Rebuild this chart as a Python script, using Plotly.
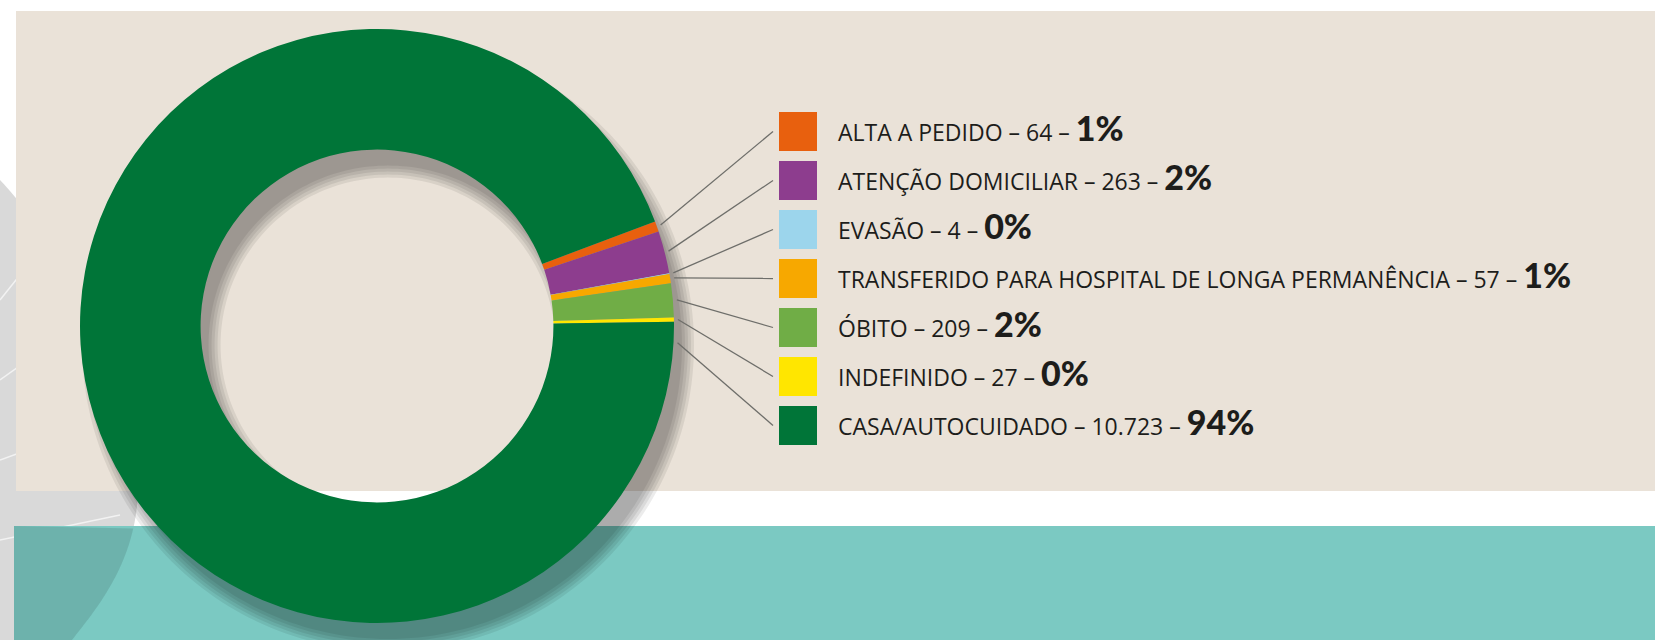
import numpy as np
import plotly.graph_objects as go

# ---------------- data ----------------
categories = ["ALTA A PEDIDO", "ATENÇÃO DOMICILIAR", "EVASÃO",
              "TRANSFERIDO PARA HOSPITAL DE LONGA PERMANÊNCIA", "ÓBITO",
              "INDEFINIDO", "CASA/AUTOCUIDADO"]
values = [64, 263, 4, 57, 209, 27, 10723]
value_labels = ["64", "263", "4", "57", "209", "27", "10.723"]
percent_labels = ["1%", "2%", "0%", "1%", "2%", "0%", "94%"]
colors = ["#E8600E", "#8D3D8E", "#9CD5EC", "#F7A800", "#70AD46", "#FFE600", "#007538"]

# ---------------- geometry / style ----------------
W, H = 1655, 640
CX, CY, R = 377, 326, 297
HOLE = 0.594
ROTATION = 69.4
BEIGE = "#EAE2D8"
TEAL = "#7BC9C2"


def px(x):
    return x / W


def py(y):
    return 1 - y / H


def poly(pts):
    return "M " + " L ".join(f"{px(x):.5f},{py(y):.5f}" for x, y in pts) + " Z"


def ring_path(cx, cy, ro, ri, n=240):
    t = np.linspace(0, 2 * np.pi, n, endpoint=False)
    outer = [(cx + ro * np.cos(a), cy + ro * np.sin(a)) for a in t]
    inner = [(cx + ri * np.cos(a), cy - ri * np.sin(a)) for a in t]
    return poly(outer) + " " + poly(inner)


def bezier(p0, p1, p2, p3, n=60):
    t = np.linspace(0, 1, n)[:, None]
    p0, p1, p2, p3 = map(np.array, (p0, p1, p2, p3))
    pts = (1 - t) ** 3 * p0 + 3 * (1 - t) ** 2 * t * p1 + 3 * (1 - t) * t ** 2 * p2 + t ** 3 * p3
    return [tuple(p) for p in pts]


shapes = []

# decorative leaf on the left edge
leaf_curve = bezier((0, 180), (70, 255), (135, 380), (138, 480)) + \
    bezier((138, 480), (140, 560), (95, 610), (72, 640))[1:]
shapes.append(dict(type="path", xref="paper", yref="paper", layer="below",
                   path=poly([(0, 180)] + leaf_curve + [(0, 640)]),
                   fillcolor="#D9D9D9", line=dict(width=0)))
for (a, b) in [((0, 300), (40, 250)), ((0, 380), (70, 330)), ((0, 460), (110, 420)),
               ((0, 540), (120, 515))]:
    shapes.append(dict(type="line", xref="paper", yref="paper", layer="below",
                       x0=px(a[0]), y0=py(a[1]), x1=px(b[0]), y1=py(b[1]),
                       line=dict(color="#F2F2F2", width=1.5)))

# background panels
shapes.append(dict(type="rect", xref="paper", yref="paper", layer="below",
                   x0=px(16), x1=1, y0=py(491), y1=py(11),
                   fillcolor=BEIGE, line=dict(width=0)))
shapes.append(dict(type="rect", xref="paper", yref="paper", layer="below",
                   x0=px(14), x1=1, y0=0, y1=py(526),
                   fillcolor=TEAL, line=dict(width=0)))
# leaf seen through the teal band
teal_leaf = [p for p in leaf_curve if p[1] >= 526]
shapes.append(dict(type="path", xref="paper", yref="paper", layer="below",
                   path=poly([(14, 526)] + teal_leaf + [(14, 640)]),
                   fillcolor="rgba(40,60,60,0.16)", line=dict(width=0)))

# soft drop shadow of the donut (stacked translucent rings)
SDX, SDY = 11, 19
r_in = R * HOLE
for grow in [9, 6, 3, 0, -3]:
    shapes.append(dict(type="path", xref="paper", yref="paper", layer="below",
                       path=ring_path(CX + SDX, CY + SDY, R + grow, r_in - grow),
                       fillcolor="rgba(0,0,0,0.075)", line=dict(width=0)))

# legend squares, leader lines, labels
SQ_X0, SQ_X1 = 779, 817
SQ_H = 39
ROW0, ROW_STEP = 131.5, 49
LINE_END_X = 773
TEXT_X = 836

total = sum(values)
annotations = []
cum = 0
for i, (cat, v, vl, pl, col) in enumerate(zip(categories, values, value_labels,
                                              percent_labels, colors)):
    start = ROTATION + 360 * cum / total
    span = 360 * v / total
    cum += v
    ang = start + span / 2 if span < 180 else start + 4
    th = np.radians(ang)
    lx = CX + (R + 4) * np.sin(th)
    ly = CY - (R + 4) * np.cos(th)
    yc = ROW0 + i * ROW_STEP
    shapes.append(dict(type="line", xref="paper", yref="paper", layer="below",
                       x0=px(lx), y0=py(ly), x1=px(LINE_END_X), y1=py(yc),
                       line=dict(color="#6E6E6A", width=1.3)))
    shapes.append(dict(type="rect", xref="paper", yref="paper", layer="below",
                       x0=px(SQ_X0), x1=px(SQ_X1), y0=py(yc + SQ_H / 2), y1=py(yc - SQ_H / 2),
                       fillcolor=col, line=dict(width=0)))
    text = (f"{cat} \u2013 {vl} \u2013 "
            f"<span style='font-family:Lato, sans-serif;font-weight:900;font-size:34px'>{pl}</span>")
    annotations.append(dict(xref="paper", yref="paper", x=px(TEXT_X), y=py(yc),
                            xanchor="left", yanchor="middle", showarrow=False,
                            text=text, yshift=4,
                            font=dict(family="Open Sans, sans-serif", size=23, color="#1D1D1B")))

fig = go.Figure()
fig.add_trace(go.Pie(labels=categories, values=values,
                     marker=dict(colors=colors, line=dict(width=0)),
                     hole=HOLE, sort=False, direction="clockwise", rotation=ROTATION,
                     textinfo="none", showlegend=False,
                     domain=dict(x=[px(CX - R), px(CX + R)], y=[py(CY + R), py(CY - R)])))

fig.update_layout(width=W, height=H, autosize=False,
                  margin=dict(l=0, r=0, t=0, b=0),
                  paper_bgcolor="white", plot_bgcolor="white",
                  shapes=shapes, annotations=annotations, showlegend=False)

fig.write_html("out.html", config={"displayModeBar": False},
               post_script="document.body.style.margin='0px';document.body.style.overflow='hidden';")
